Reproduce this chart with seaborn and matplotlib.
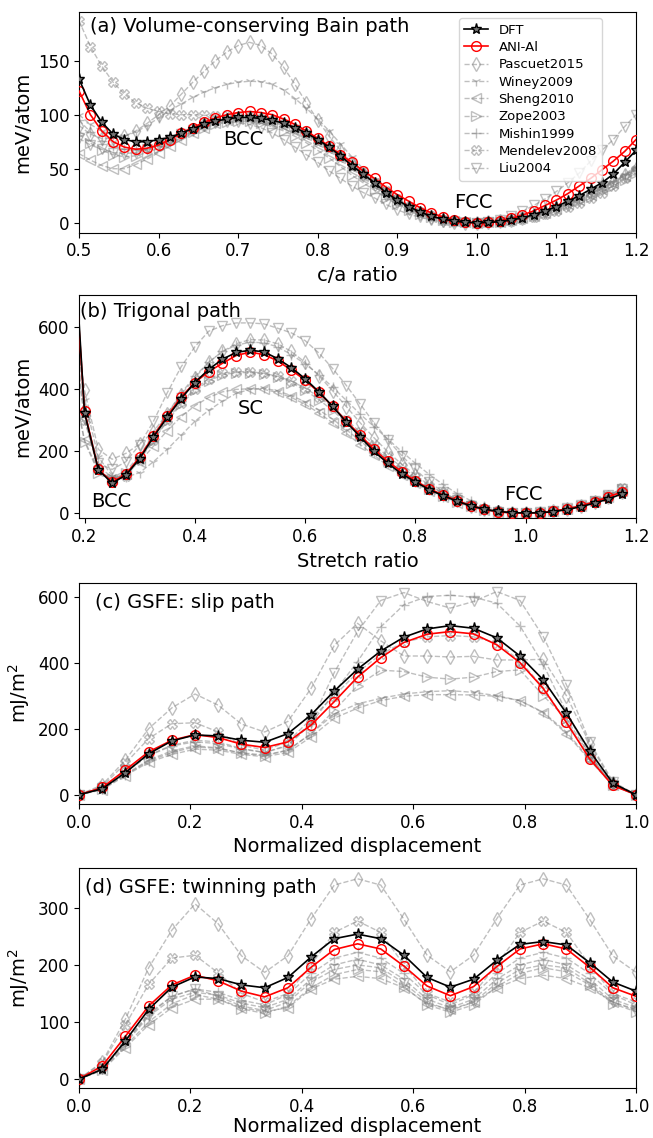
import matplotlib
matplotlib.use("Agg")
import matplotlib.pyplot as plt
import seaborn as sns
import pandas as pd

# ---------------- series names and styles ----------------
names = ["DFT", "ANI-Al", "Pascuet2015", "Winey2009", "Sheng2010",
         "Zope2003", "Mishin1999", "Mendelev2008", "Liu2004"]
markers = {"DFT": "*", "ANI-Al": "o", "Pascuet2015": "d", "Winey2009": "1",
           "Sheng2010": "<", "Zope2003": ">", "Mishin1999": "+",
           "Mendelev2008": "X", "Liu2004": "v"}

# ---------------- (a) Volume-conserving Bain path ----------------
bain_x = [0.5, 0.5143, 0.5286, 0.5429, 0.5571, 0.5714, 0.5857, 0.6,
          0.6143, 0.6286, 0.6429, 0.6571, 0.6714, 0.6857, 0.7,
          0.7143, 0.7286, 0.7429, 0.7571, 0.7714, 0.7857, 0.8,
          0.8143, 0.8286, 0.8429, 0.8571, 0.8714, 0.8857, 0.9,
          0.9143, 0.9286, 0.9429, 0.9571, 0.9714, 0.9857, 1.0,
          1.0143, 1.0286, 1.0429, 1.0571, 1.0714, 1.0857, 1.1,
          1.1143, 1.1286, 1.1429, 1.1571, 1.1714, 1.1857, 1.2]
bain_dft = [133, 109, 93, 82, 77, 75, 75, 77,
            79, 83, 87, 91, 94, 96, 97.5,
            97.5, 96.5, 95, 92, 88, 83, 77,
            70, 62, 53, 45, 37, 28, 21,
            15, 10, 6, 3.5, 1.5, 0.4, 0,
            0.3, 1, 2.5, 4.5, 7.5, 11, 15,
            20, 25, 31, 37, 45, 56, 67]
bain_ani = [122, 100, 85, 75, 70, 68, 69, 72,
            77, 83, 88, 93, 97, 100, 102,
            103, 102, 100, 96, 91, 85, 78,
            71, 63, 56, 48, 41, 33, 26,
            20, 14, 9, 5.5, 2.5, 0.8, 0,
            0.5, 2, 4, 7, 11, 16, 21,
            27, 34, 41, 49, 57, 66, 77]
bain_pascuet = [90, 82, 78, 78, 80, 85, 92, 100,
                108, 119, 130, 140, 150, 158, 164,
                167, 164, 156, 144, 128, 111, 95,
                80, 67, 55, 45, 36, 27, 20,
                14, 9, 5, 2.5, 1, 0.2, 0,
                0.3, 1.2, 2.6, 4.5, 7, 10, 13.5,
                17.5, 22, 27, 32, 38, 44, 50]
bain_winey = [100, 91, 85, 81, 80, 84, 90, 97,
              104, 110, 116, 121, 125, 128, 130,
              131, 130.5, 128, 123, 115, 106, 96,
              85, 73, 61, 50, 40, 31, 23,
              16, 11, 6.5, 3.5, 1.3, 0.3, 0,
              0.3, 1.1, 2.5, 4.5, 7, 10, 13.5,
              17.5, 22, 27, 32, 38, 44, 51]
bain_sheng = [64, 58, 53, 50, 50, 54, 59, 65,
              71, 77, 83, 88, 92, 95, 96,
              96, 95, 93, 90, 86, 81, 75,
              68, 60, 52, 43, 35, 27, 20,
              14, 9, 5.5, 3, 1.2, 0.3, 0,
              0.3, 1, 2.2, 4, 6.5, 9.5, 13,
              17, 21, 26, 31, 37, 43, 50]
bain_zope = [82, 74, 67, 63, 61, 62, 65, 69,
             74, 79, 84, 88, 91, 93, 94,
             94, 92, 89, 85, 80, 74, 67,
             60, 52, 44, 37, 30, 23, 17,
             12, 8, 5, 2.5, 1, 0.3, 0,
             0.3, 1, 2.2, 4, 6, 9, 12,
             16, 20, 24, 29, 34, 40, 46]
bain_mishin = [95, 84, 76, 71, 68, 67, 68, 71,
               75, 80, 85, 90, 94, 97, 99,
               100, 99, 97, 93, 89, 83, 77,
               70, 62, 54, 46, 38, 30, 22,
               16, 10, 6, 3, 1.2, 0.3, 0,
               0.3, 1.1, 2.5, 4.5, 7, 10, 14,
               18, 23, 28, 33, 39, 45, 52]
bain_mendelev = [187, 163, 145, 130, 119, 111, 106, 103,
                 101, 100, 100, 99.5, 99, 98.5, 98,
                 97.5, 96, 94, 91, 87, 82, 76,
                 69, 61, 53, 45, 37, 29, 22,
                 15, 10, 6, 3, 1.2, 0.3, 0,
                 0.3, 0.9, 2, 3.5, 5.5, 8, 11,
                 14.5, 18.5, 23, 28, 34, 41, 49]
bain_liu = [78, 72, 68, 65, 64, 65, 68, 72,
            77, 82, 86, 90, 92, 93, 93,
            91, 88, 83, 77, 70, 63, 56,
            48, 41, 34, 28, 23, 17, 12,
            8, 5, 2.5, 1, 0.3, 0, 0,
            1, 3, 6, 10.5, 16, 22, 29,
            37, 46, 57, 67, 77, 89, 100]

# ---------------- (b) Trigonal path ----------------
trig_x = [0.175, 0.2, 0.225, 0.25, 0.275, 0.3, 0.325, 0.35, 0.375, 0.4,
          0.425, 0.45, 0.475, 0.5, 0.525, 0.55, 0.575, 0.6,
          0.625, 0.65, 0.675, 0.7, 0.725, 0.75, 0.775, 0.8,
          0.825, 0.85, 0.875, 0.9, 0.925, 0.95, 0.975, 1.0,
          1.025, 1.05, 1.075, 1.1, 1.125, 1.15, 1.175]
trig_dft = [1060, 323, 139, 96, 122, 175, 245, 308, 368, 420,
            462, 495, 517, 524, 519, 497, 468, 432,
            390, 343, 292, 245, 198, 160, 126, 100,
            75, 56, 38, 23, 12, 5, 1, 0,
            0.5, 4, 11, 20, 32, 45, 62]
trig_ani = [1000, 328, 140, 100, 125, 180, 248, 313, 373, 420,
            455, 482, 507, 518, 510, 490, 460, 428,
            388, 343, 295, 250, 205, 166, 133, 103,
            78, 58, 40, 24, 12, 4, 0.5, 0,
            1, 6, 13, 23, 36, 52, 68]
trig_pascuet = [700, 395, 205, 173, 192, 222, 262, 320, 380, 435,
                485, 520, 545, 558, 557, 545, 520, 485,
                442, 393, 342, 290, 242, 197, 157, 122,
                90, 63, 41, 24, 12, 4, 1, 0,
                1, 5, 12, 22, 35, 50, 68]
trig_winey = [800, 365, 180, 120, 115, 130, 165, 205, 250, 295,
              330, 360, 385, 398, 402, 393, 378, 358,
              332, 302, 268, 232, 196, 162, 130, 100,
              75, 53, 35, 20, 9, 3, 0.5, 0,
              1, 5, 12, 22, 36, 52, 75]
trig_sheng = [450, 235, 135, 110, 125, 165, 215, 265, 310, 345,
              372, 390, 398, 400, 398, 388, 372, 350,
              322, 290, 256, 220, 186, 152, 122, 95,
              70, 50, 33, 19, 9, 3, 0.5, 0,
              1, 5, 12, 22, 35, 52, 72]
trig_zope = [450, 230, 130, 108, 128, 175, 235, 295, 350, 395,
             425, 445, 452, 452, 448, 438, 420, 395,
             365, 330, 290, 250, 210, 172, 138, 106,
             78, 55, 36, 21, 10, 3, 0.5, 0,
             1, 5, 13, 24, 38, 55, 78]
trig_mishin = [800, 330, 150, 115, 135, 185, 250, 320, 385, 440,
               485, 520, 540, 550, 548, 535, 510, 480,
               445, 405, 362, 318, 278, 238, 198, 160,
               124, 92, 63, 40, 22, 9, 2, 0,
               1, 5, 12, 22, 35, 52, 75]
trig_mendelev = [650, 300, 140, 105, 120, 170, 235, 300, 355, 400,
                 432, 450, 455, 455, 450, 440, 425, 402,
                 374, 340, 300, 260, 220, 182, 148, 116,
                 88, 64, 44, 27, 14, 5, 1, 0,
                 1, 5, 12, 23, 37, 55, 80]
trig_liu = [700, 300, 160, 140, 165, 220, 295, 387, 470, 535,
            585, 603, 612, 612, 609, 595, 580, 555,
            515, 465, 410, 350, 290, 235, 185, 140,
            100, 68, 42, 22, 9, 2, 0, 0,
            2, 7, 15, 26, 40, 57, 78]

# ---------------- (c) GSFE slip path / (d) twinning path ----------------
disp_x = [0, 0.0417, 0.0833, 0.125, 0.1667, 0.2083, 0.25, 0.2917, 0.3333,
          0.375, 0.4167, 0.4583, 0.5, 0.5417, 0.5833, 0.625, 0.6667,
          0.7083, 0.75, 0.7917, 0.8333, 0.875, 0.9167, 0.9583, 1.0]
slip_dft = [0, 18, 67, 124, 163, 181, 178, 165, 159, 185, 242, 314, 380,
            435, 477, 502, 512, 504, 475, 420, 348, 247, 133, 35, 0]
slip_ani = [0, 22, 75, 130, 165, 182, 173, 153, 143, 160, 211, 282, 356,
            415, 461, 486, 494, 487, 454, 400, 322, 219, 109, 28, 0]
slip_pascuet = [0, 30, 105, 200, 263, 305, 271, 214, 190, 222, 322, 452, 519,
                466, 420, 420, 417, 419, 408, 408, 410, 300, 155, 35, 0]
slip_winey = [0, 17, 60, 102, 128, 145, 140, 127, 120, 135, 185, 245, 275,
              292, 305, 312, 315, 310, 300, 285, 250, 190, 108, 28, 0]
slip_sheng = [0, 15, 58, 98, 122, 138, 135, 122, 115, 128, 175, 232, 262,
              285, 298, 303, 303, 302, 298, 285, 248, 185, 105, 28, 0]
slip_zope = [0, 18, 62, 105, 133, 148, 142, 125, 118, 135, 185, 255, 330,
             377, 373, 356, 350, 356, 373, 378, 300, 230, 120, 30, 0]
slip_mishin = [0, 18, 68, 118, 148, 160, 155, 138, 128, 148, 215, 310, 403,
               508, 575, 600, 604, 598, 580, 511, 395, 250, 120, 32, 0]
slip_mendelev = [0, 25, 95, 170, 215, 218, 190, 150, 135, 160, 230, 300, 370,
                 425, 462, 478, 482, 478, 460, 405, 325, 220, 115, 30, 0]
slip_liu = [0, 20, 75, 120, 150, 165, 160, 140, 128, 150, 220, 370, 494,
            588, 612, 585, 565, 585, 615, 588, 479, 333, 160, 40, 0]

twin_dft = [0, 17, 67, 122, 161, 179, 176, 165, 160, 178, 214, 246, 254,
            246, 217, 178, 161, 175, 208, 236, 241, 235, 204, 170, 154]
twin_ani = [0, 23, 75, 128, 165, 182, 172, 154, 144, 160, 196, 227, 237,
            228, 198, 163, 146, 162, 197, 228, 237, 228, 196, 160, 145]
twin_pascuet = [0, 30, 105, 195, 261, 307, 272, 216, 187, 216, 281, 340, 351,
                340, 280, 217, 188, 217, 281, 340, 351, 340, 280, 216, 187]
twin_winey = [0, 17, 62, 110, 140, 152, 147, 133, 125, 140, 175, 200, 210,
              200, 175, 140, 125, 140, 175, 200, 210, 200, 175, 140, 125]
twin_sheng = [0, 15, 55, 95, 125, 140, 140, 125, 118, 125, 158, 175, 180,
              176, 160, 132, 122, 135, 160, 176, 182, 176, 160, 135, 122]
twin_zope = [0, 16, 58, 100, 132, 148, 140, 123, 115, 128, 160, 183, 192,
             188, 162, 130, 117, 130, 162, 185, 195, 188, 165, 132, 118]
twin_mishin = [0, 18, 65, 115, 145, 158, 152, 138, 130, 148, 185, 212, 222,
               212, 185, 148, 130, 148, 185, 212, 222, 212, 185, 148, 130]
twin_mendelev = [0, 28, 95, 166, 212, 217, 186, 150, 135, 150, 200, 257, 277,
                 257, 200, 150, 135, 150, 200, 257, 277, 257, 200, 150, 135]
twin_liu = [0, 18, 65, 112, 145, 158, 145, 128, 120, 135, 170, 192, 200,
            195, 168, 135, 120, 135, 168, 192, 200, 195, 168, 135, 120]

panels = [
    (bain_x, [bain_dft, bain_ani, bain_pascuet, bain_winey, bain_sheng,
              bain_zope, bain_mishin, bain_mendelev, bain_liu]),
    (trig_x, [trig_dft, trig_ani, trig_pascuet, trig_winey, trig_sheng,
              trig_zope, trig_mishin, trig_mendelev, trig_liu]),
    (disp_x, [slip_dft, slip_ani, slip_pascuet, slip_winey, slip_sheng,
              slip_zope, slip_mishin, slip_mendelev, slip_liu]),
    (disp_x, [twin_dft, twin_ani, twin_pascuet, twin_winey, twin_sheng,
              twin_zope, twin_mishin, twin_mendelev, twin_liu]),
]

# ---------------- figure ----------------
plt.rcParams["font.family"] = ["DejaVu Sans"]
fig = plt.figure(figsize=(6.53, 11.38), dpi=100)
bottoms = [0.7955, 0.5446, 0.2935, 0.0440]
heights = [0.1942, 0.1962, 0.1942, 0.1933]
axes = [fig.add_axes([0.121, b, 0.853, h]) for b, h in zip(bottoms, heights)]


def draw(ax, x, ys):
    handles = {}
    order = list(range(2, 9)) + [1, 0]
    for i in order:
        name = names[i]
        df = pd.DataFrame({"x": x, "y": ys[i]})
        if name == "DFT":
            kw = dict(color="black", linestyle="-", linewidth=1.2, markersize=8,
                      markerfacecolor="0.45", markeredgecolor="black",
                      markeredgewidth=1.0, zorder=5)
        elif name == "ANI-Al":
            kw = dict(color="red", linestyle="-", linewidth=1.2, markersize=7,
                      markerfacecolor="none", markeredgecolor="red",
                      markeredgewidth=1.0, zorder=4)
        else:
            kw = dict(color="gray", linestyle="--", linewidth=1.0, markersize=7,
                      markerfacecolor="none", markeredgecolor="gray",
                      markeredgewidth=1.0, alpha=0.5, zorder=2)
        sns.lineplot(data=df, x="x", y="y", ax=ax, marker=markers[name],
                     sort=False, estimator=None, legend=False, label=name, **kw)
        handles[name] = ax.get_lines()[-1]
    ax.set_xlabel("")
    ax.set_ylabel("")
    ax.tick_params(labelsize=12, direction="out", length=3.5)
    return [handles[n] for n in names]


# (a)
ax = axes[0]
hs = draw(ax, *panels[0])
ax.set_xlim(0.5, 1.2)
ax.set_ylim(-9.2, 195.3)
ax.set_xticks([0.5, 0.6, 0.7, 0.8, 0.9, 1.0, 1.1, 1.2])
ax.set_xticklabels(["0.5", "0.6", "0.7", "0.8", "0.9", "1.0", "1.1", "1.2"])
ax.set_yticks([0, 50, 100, 150])
ax.set_xlabel("c/a ratio", fontsize=14)
ax.set_ylabel("meV/atom", fontsize=14)
ax.text(0.019, 0.935, "(a) Volume-conserving Bain path", transform=ax.transAxes,
        fontsize=14, ha="left", va="center")
ax.text(0.707, 77, "BCC", fontsize=14, ha="center", va="center")
ax.text(0.995, 19, "FCC", fontsize=14, ha="center", va="center")
ax.legend(hs, names, loc="upper right", bbox_to_anchor=(0.951, 1.0),
          fontsize=9.5, handlelength=1.8, labelspacing=0.33)

# (b)
ax = axes[1]
draw(ax, *panels[1])
ax.set_xlim(0.19, 1.2)
ax.set_ylim(-17, 702)
ax.set_xticks([0.2, 0.4, 0.6, 0.8, 1.0, 1.2])
ax.set_xticklabels(["0.2", "0.4", "0.6", "0.8", "1.0", "1.2"])
ax.set_yticks([0, 200, 400, 600])
ax.set_xlabel("Stretch ratio", fontsize=14)
ax.set_ylabel("meV/atom", fontsize=14)
ax.text(0.002, 0.925, "(b) Trigonal path", transform=ax.transAxes,
        fontsize=14, ha="left", va="center")
ax.text(0.502, 338, "SC", fontsize=14, ha="center", va="center")
ax.text(0.248, 36, "BCC", fontsize=14, ha="center", va="center")
ax.text(0.996, 58, "FCC", fontsize=14, ha="center", va="center")

# (c)
ax = axes[2]
draw(ax, *panels[2])
ax.set_xlim(0, 1)
ax.set_ylim(-28, 641)
ax.set_xticks([0, 0.2, 0.4, 0.6, 0.8, 1.0])
ax.set_xticklabels(["0.0", "0.2", "0.4", "0.6", "0.8", "1.0"])
ax.set_yticks([0, 200, 400, 600])
ax.set_xlabel("Normalized displacement", fontsize=14)
ax.set_ylabel("mJ/m$^2$", fontsize=14)
ax.text(0.028, 0.911, "(c) GSFE: slip path", transform=ax.transAxes,
        fontsize=14, ha="left", va="center")

# (d)
ax = axes[3]
draw(ax, *panels[3])
ax.set_xlim(0, 1)
ax.set_ylim(-15.6, 370)
ax.set_xticks([0, 0.2, 0.4, 0.6, 0.8, 1.0])
ax.set_xticklabels(["0.0", "0.2", "0.4", "0.6", "0.8", "1.0"])
ax.set_yticks([0, 100, 200, 300])
ax.set_xlabel("Normalized displacement", fontsize=14, labelpad=1)
ax.set_ylabel("mJ/m$^2$", fontsize=14)
ax.text(0.011, 0.91, "(d) GSFE: twinning path", transform=ax.transAxes,
        fontsize=14, ha="left", va="center")

fig.savefig("out.png", dpi=100)
